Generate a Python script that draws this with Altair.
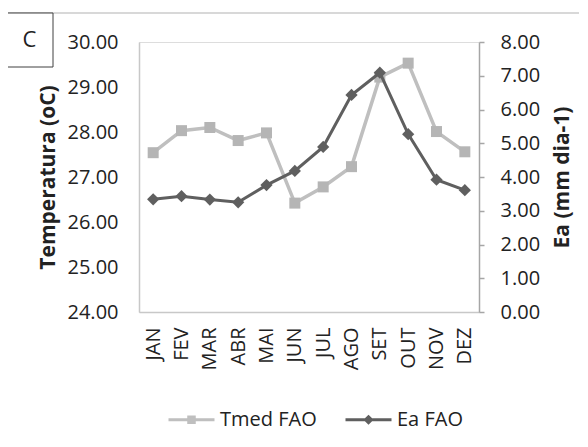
import altair as alt
import pandas as pd

# ---- data ----
meses = ["JAN", "FEV", "MAR", "ABR", "MAI", "JUN", "JUL", "AGO", "SET", "OUT", "NOV", "DEZ"]
tmed = [27.54, 28.03, 28.10, 27.81, 27.98, 26.42, 26.78, 27.23, 29.22, 29.53, 28.01, 27.56]
ea = [3.34, 3.43, 3.33, 3.25, 3.76, 4.18, 4.89, 6.43, 7.09, 5.27, 3.92, 3.61]
series = ["Tmed FAO", "Ea FAO"]
line_colors = ["#bfbfbf", "#5f5f5f"]
tmed_ticks = [24, 25, 26, 27, 28, 29, 30]
ea_ticks = [0, 1, 2, 3, 4, 5, 6, 7, 8]

FONT = "Open Sans"
TXT = "#222222"

df = pd.DataFrame({"Mes": meses, "Tmed": tmed, "Ea": ea})
base = alt.Chart(df)

x_enc = alt.X(
    "Mes:N", sort=meses,
    scale=alt.Scale(type="point", padding=0.5),
    axis=alt.Axis(title=None, labelAngle=270, ticks=False, labelPadding=15,
                  domainColor="#c8c8c8", domainWidth=1.5, labelFontSize=20,
                  labelColor=TXT, labelFont=FONT),
)

y_t = alt.Y(
    "Tmed:Q",
    scale=alt.Scale(domain=[24, 30], nice=False, zero=False),
    axis=alt.Axis(orient="left", values=tmed_ticks, format=".2f", ticks=False,
                  labelPadding=21, domainColor="#c8c8c8", domainWidth=1.5,
                  grid=False, title="Temperatura (oC)", titleFontWeight="bold",
                  titleFontSize=21, titleColor=TXT, titleFont=FONT,
                  titleX=-91, titleBaseline="middle",
                  labelFontSize=20, labelColor=TXT, labelFont=FONT),
)
y_e = alt.Y(
    "Ea:Q",
    scale=alt.Scale(domain=[0, 8], nice=False, zero=True),
    axis=alt.Axis(orient="right", values=ea_ticks, format=".2f", ticks=True,
                  tickSize=5, tickColor="#a6a6a6", tickWidth=1.5,
                  labelPadding=16, domainColor="#a6a6a6", domainWidth=1.5,
                  grid=False, title="Ea (mm dia-1)", titleFontWeight="bold",
                  titleFontSize=21, titleColor=TXT, titleFont=FONT,
                  titleAngle=270, titleX=83, titleBaseline="middle",
                  labelFontSize=20, labelColor=TXT, labelFont=FONT),
)

t_line = base.mark_line(color=line_colors[0], strokeWidth=3.5).encode(x=x_enc, y=y_t)
t_pts = base.mark_point(shape="square", filled=True, size=121, opacity=1,
                        color="#b5b5b5").encode(x=x_enc, y=y_t)
e_line = base.mark_line(color=line_colors[1], strokeWidth=3).encode(x=x_enc, y=y_e)
e_pts = base.mark_point(shape="diamond", filled=True, size=150, opacity=1,
                        color=line_colors[1]).encode(x=x_enc, y=y_e)

t_layer = alt.layer(t_line, t_pts)
e_layer = alt.layer(e_line, e_pts)

# legend (line segment + marker symbols)
sq_path = "M-1,0L1,0M-0.12,-0.12L0.12,-0.12L0.12,0.12L-0.12,0.12Z"
dm_path = "M-1,0L1,0M0,-0.13L0.13,0L0,0.13L-0.13,0Z"
leg = alt.Legend(title=None, orient="none", legendX=28, legendY=353,
                 direction="horizontal", symbolSize=2116, symbolStrokeWidth=3,
                 symbolOpacity=1, labelFont=FONT, labelFontSize=20,
                 labelColor=TXT, labelOffset=4, columnPadding=22, padding=0)
leg_df = pd.DataFrame({"serie": series})
legend_layer = alt.Chart(leg_df).mark_point(filled=True, size=1, opacity=0).encode(
    fill=alt.Fill("serie:N", scale=alt.Scale(domain=series, range=line_colors), legend=leg),
    stroke=alt.Stroke("serie:N", scale=alt.Scale(domain=series, range=line_colors), legend=leg),
    shape=alt.Shape("serie:N", scale=alt.Scale(domain=series, range=[sq_path, dm_path]), legend=leg),
)

# decorations: outer frame and the "C" panel box
one = alt.Data(values=[{"k": 1}])
frame = alt.Chart(one).mark_rect(fill="transparent", stroke="#cccccc", strokeWidth=1.5).encode(
    x=alt.value(-133), x2=alt.value(620), y=alt.value(-29), y2=alt.value(520))
boxc = alt.Chart(one).mark_rect(fill="white", stroke="#404040", strokeWidth=1).encode(
    x=alt.value(-133), x2=alt.value(-86), y=alt.value(-29), y2=alt.value(25))
textc = alt.Chart(one).mark_text(text="C", font=FONT, fontSize=22, color=TXT,
                                 align="center", baseline="middle").encode(
    x=alt.value(-109.5), y=alt.value(-2))

chart = alt.layer(frame, boxc, textc, t_layer, e_layer, legend_layer).resolve_scale(
    y="independent"
).properties(
    width=340, height=270,
    autosize=alt.AutoSizeParams(type="none"),
    padding={"left": 131, "top": 34, "right": 100, "bottom": 125},
).configure_view(strokeWidth=0).configure(font=FONT)

chart.save("out.html", embed_options={"renderer": "svg", "actions": False})
